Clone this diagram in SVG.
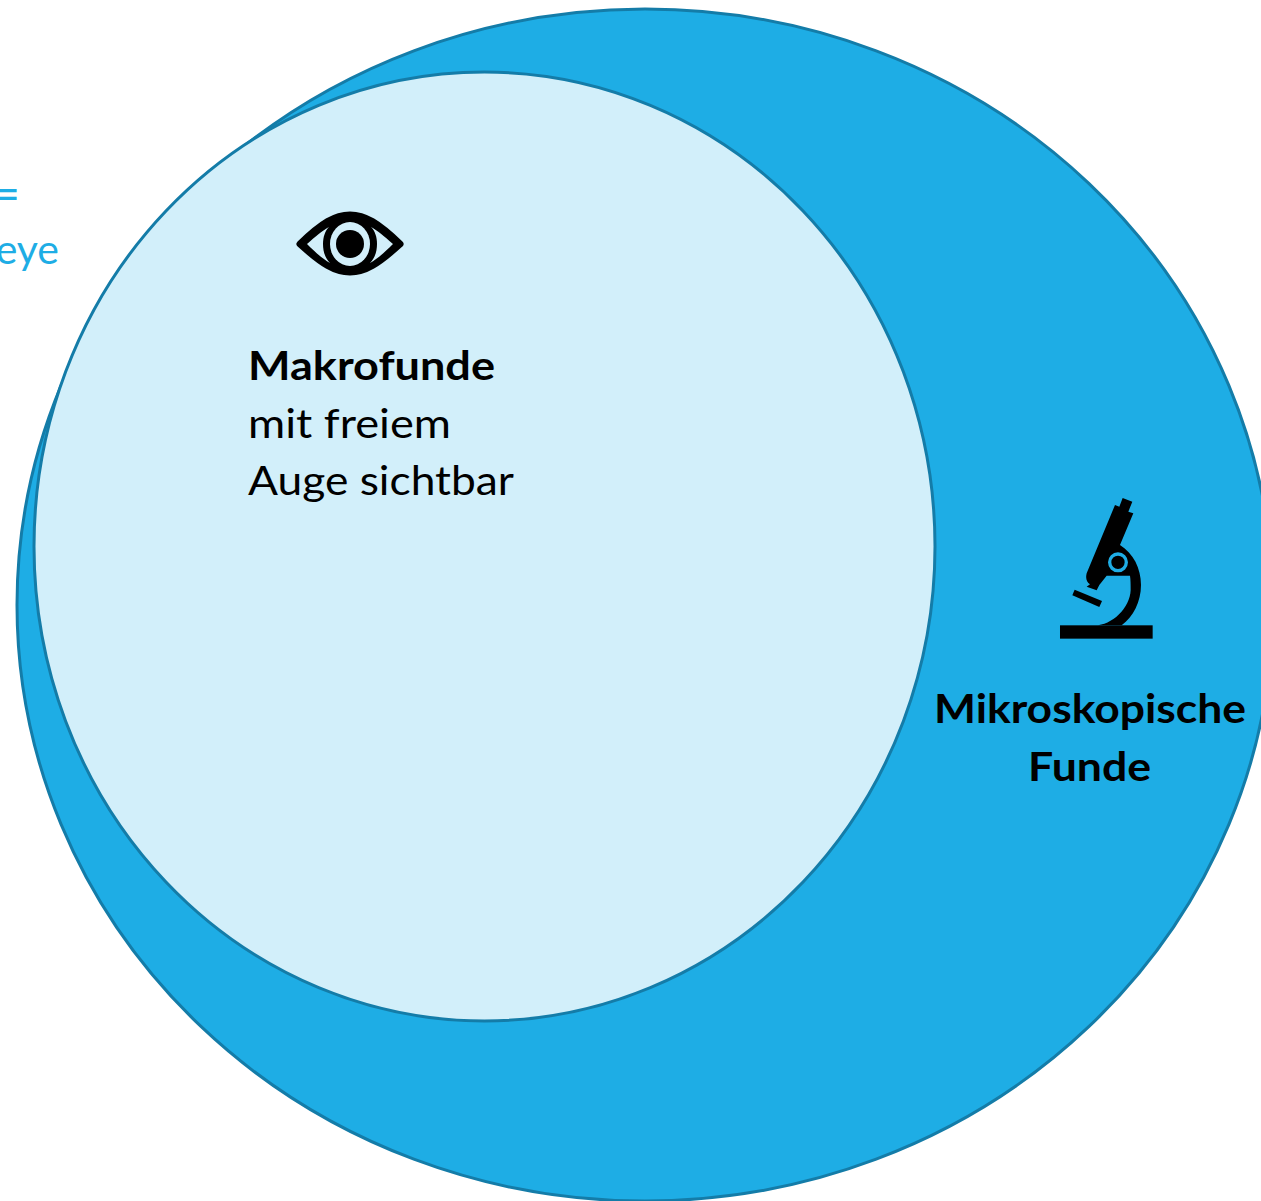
<svg xmlns="http://www.w3.org/2000/svg" width="1261" height="1201" viewBox="0 0 1261 1201">
<style>
.c{stroke:#147CA8;stroke-width:3}
text{font-family:"Lato","Open Sans",sans-serif;font-size:41px;fill:#000}
.b{font-weight:700}
.s{fill:#1EADE5}
</style>
<rect width="1261" height="1201" fill="#fff"/>
<g id="clipped-label">
<text class="s" x="20" y="210" text-anchor="end" style="font-size:47px">=</text>
<text class="s" x="59" y="264" text-anchor="end">eye</text>
</g>
<g id="outer"><ellipse class="c" cx="645" cy="605" rx="628" ry="596" fill="#1EADE5"/></g>
<g id="inner"><ellipse class="c" cx="484.5" cy="546.5" rx="450.5" ry="474.5" fill="#D2EFFA"/></g>
<g id="eye">
<path d="M300 244C322 223 335 215 350 215C365 215 378 223 400 244C378 264 365 272 350 272C335 272 322 264 300 244Z" fill="#000" stroke="#000" stroke-width="7" stroke-linejoin="round"/>
<path d="M307 244C316 236 322 231 329 227C325 231 323 237 323 244C323 251 325 258 330 263C323 259 316 253 307 244Z M393 244C384 236 378 231 371 227C375 231 377 237 377 244C377 251 375 258 370 263C377 259 384 253 393 244Z" fill="#D2EFFA"/>
<ellipse cx="350" cy="244" rx="20" ry="22" fill="#D2EFFA"/>
<circle cx="350" cy="244" r="14" fill="#000"/>
</g>
<g id="microscope" transform="translate(1040 485) scale(.3333)">
<rect x="60" y="421" width="278" height="40"/>
<path d="M248 39L277 50L265 80L280 85L240 180C280 205 303 250 303 300C303 350 280 395 245 421L165 421C215 421 270 370 272 315C272 300 272 285 270 272L200 272L178 300L170 316L140 305L150 298C140 292 136 280 140 265L225 60L238 65Z"/>
<path d="M104 314L186 348L178 366L97 331Z"/>
<circle cx="234" cy="232" r="25" fill="#000" stroke="#1EADE5" stroke-width="10"/>
</g>
<g id="makro">
<text class="b" x="248" y="380" textLength="247" lengthAdjust="spacingAndGlyphs">Makrofunde</text>
<text x="248" y="438" textLength="203" lengthAdjust="spacingAndGlyphs">mit freiem</text>
<text x="248" y="495" textLength="266" lengthAdjust="spacingAndGlyphs">Auge sichtbar</text>
</g>
<g id="mikro">
<text class="b" x="934" y="723" textLength="312" lengthAdjust="spacingAndGlyphs">Mikroskopische</text>
<text class="b" x="1028" y="781" textLength="123" lengthAdjust="spacingAndGlyphs">Funde</text>
</g>
<g id="connectors"/>
</svg>
